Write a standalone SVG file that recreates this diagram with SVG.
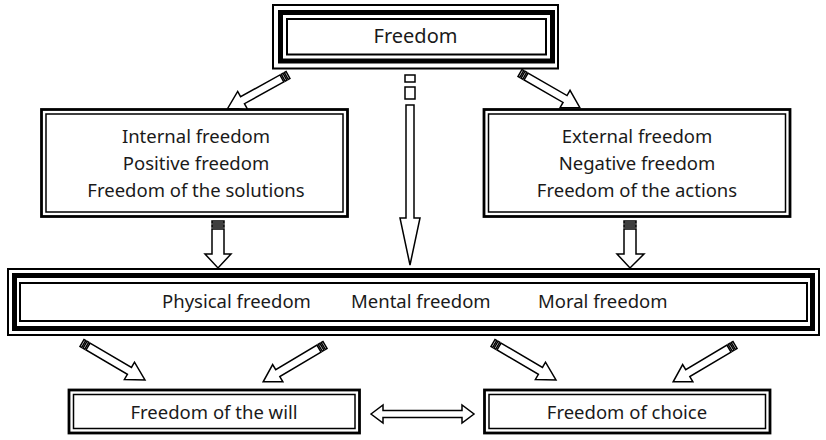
<svg xmlns="http://www.w3.org/2000/svg" width="826" height="440" viewBox="0 0 826 440">
<style>
text{font-family:"Noto Sans","Open Sans",sans-serif;font-size:18.5px;fill:#1a1a1a}
.c{text-anchor:middle}
.thin{fill:none;stroke:#000;stroke-width:2}
.thick{fill:none;stroke:#000;stroke-width:5}
.out{fill:none;stroke:#000;stroke-width:2.8}
.in{fill:none;stroke:#000;stroke-width:1.5}
.ar{fill:#fff;stroke:#000;stroke-width:1.5;stroke-linejoin:miter}
</style>
<rect width="826" height="440" fill="#fff"/>
<g id="freedom">
<rect class="thin" x="273" y="5" width="285" height="63.5"/>
<rect class="thick" x="280.5" y="12.5" width="272" height="48.5"/>
<rect class="thin" x="287" y="19" width="259" height="35.5"/>
<text class="c" x="415.5" y="43" style="font-size:20px">Freedom</text>
</g>
<g id="internal">
<rect class="out" x="41.5" y="109.5" width="306" height="107"/>
<rect class="in" x="46" y="114" width="297" height="98"/>
<text class="c" x="196" y="143">Internal freedom</text>
<text class="c" x="196" y="170">Positive freedom</text>
<text class="c" x="196" y="197">Freedom of the solutions</text>
</g>
<g id="external">
<rect class="out" x="484" y="109.5" width="306" height="107"/>
<rect class="in" x="488.5" y="114" width="297" height="98"/>
<text class="c" x="637" y="143">External freedom</text>
<text class="c" x="637" y="170">Negative freedom</text>
<text class="c" x="637" y="197">Freedom of the actions</text>
</g>
<g id="kinds">
<rect class="thin" x="8" y="269" width="811" height="66"/>
<rect class="thick" x="14.5" y="275.5" width="798" height="53"/>
<rect class="thin" x="20" y="283" width="787" height="38"/>
<text x="162" y="308">Physical freedom</text>
<text x="351" y="308">Mental freedom</text>
<text x="538" y="308">Moral freedom</text>
</g>
<g id="will">
<rect class="out" x="69" y="390" width="290.5" height="43"/>
<rect class="in" x="73.5" y="394.5" width="281.5" height="34"/>
<text class="c" x="214" y="419">Freedom of the will</text>
</g>
<g id="choice">
<rect class="out" x="484.5" y="390" width="285.5" height="43"/>
<rect class="in" x="489" y="394.5" width="276.5" height="34"/>
<text class="c" x="627" y="419">Freedom of choice</text>
</g>
<g id="connectors">
<g transform="translate(288,75) rotate(151)">
<rect class="ar" x="0" y="-4" width="2" height="8"/><rect class="ar" x="3.5" y="-4" width="2" height="8"/>
<polygon class="ar" points="7,-4 52,-4 52,-10 69,0 52,10 52,4 7,4"/>
</g>
<g transform="translate(520,73) rotate(30)">
<rect class="ar" x="0" y="-4" width="2" height="8"/><rect class="ar" x="3.5" y="-4" width="2" height="8"/>
<polygon class="ar" points="7,-4 52,-4 52,-10 69,0 52,10 52,4 7,4"/>
</g>
<g transform="translate(82,343) rotate(30.4)">
<rect class="ar" x="0" y="-4" width="2" height="8"/><rect class="ar" x="3.5" y="-4" width="2" height="8"/>
<polygon class="ar" points="7,-4 55,-4 55,-10 73,0 55,10 55,4 7,4"/>
</g>
<g transform="translate(325,345) rotate(149.2)">
<rect class="ar" x="0" y="-4" width="2" height="8"/><rect class="ar" x="3.5" y="-4" width="2" height="8"/>
<polygon class="ar" points="7,-4 55,-4 55,-10 72,0 55,10 55,4 7,4"/>
</g>
<g transform="translate(493,343) rotate(30.4)">
<rect class="ar" x="0" y="-4" width="2" height="8"/><rect class="ar" x="3.5" y="-4" width="2" height="8"/>
<polygon class="ar" points="7,-4 55,-4 55,-10 73,0 55,10 55,4 7,4"/>
</g>
<g transform="translate(735,345) rotate(149.2)">
<rect class="ar" x="0" y="-4" width="2" height="8"/><rect class="ar" x="3.5" y="-4" width="2" height="8"/>
<polygon class="ar" points="7,-4 55,-4 55,-10 72,0 55,10 55,4 7,4"/>
</g>
<rect class="ar" x="405" y="75" width="10" height="7"/>
<rect class="ar" x="405" y="87" width="10" height="12"/>
<polygon class="ar" points="406,105 414,105 414,218 420,218 410,265 400,218 406,218"/>
<rect class="ar" x="212" y="221" width="12" height="2"/><rect class="ar" x="212" y="225" width="12" height="2"/>
<polygon class="ar" points="212,229 224,229 224,254 231,254 218,268 205,254 212,254"/>
<rect class="ar" x="624" y="221" width="12" height="2"/><rect class="ar" x="624" y="225" width="12" height="2"/>
<polygon class="ar" points="624,229 636,229 636,254 644,254 630,268 617,254 624,254"/>
<polygon class="ar" points="371,414 383,405 383,410.5 462,410.5 462,405 474,414 462,423 462,417.5 383,417.5 383,423"/>
</g>
</svg>
